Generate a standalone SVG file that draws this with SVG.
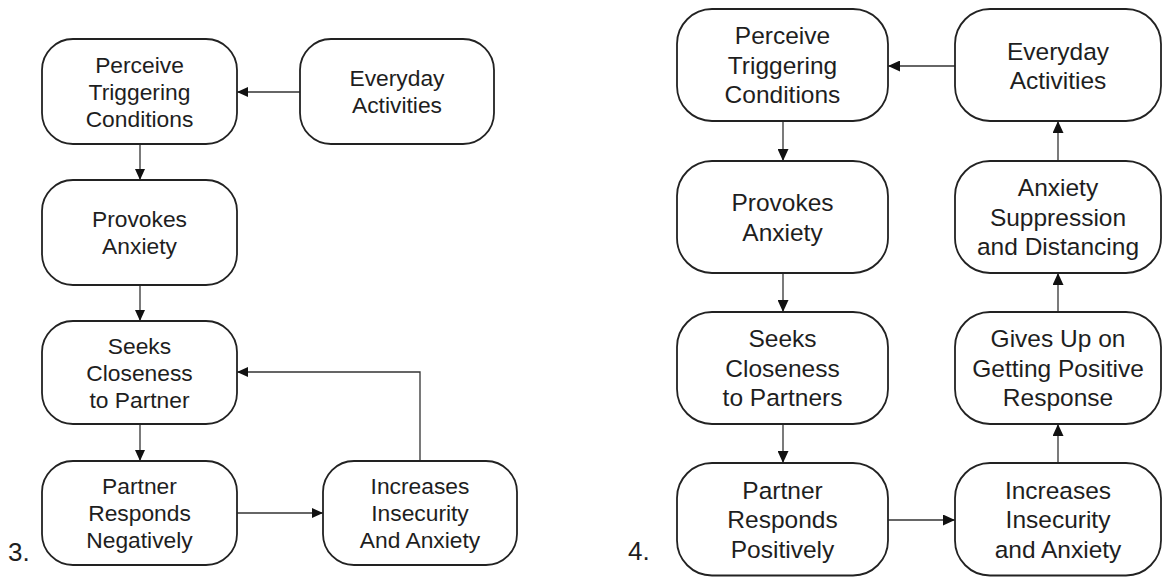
<svg xmlns="http://www.w3.org/2000/svg" width="1162" height="577" viewBox="0 0 1162 577">
<style>
.box{fill:#fff;stroke:#222;stroke-width:1.8}
.t{font-family:"Liberation Sans",Arial,sans-serif;fill:#1e1e1e;text-anchor:middle}
.ts{font-size:22.8px}
.tb{font-size:24.5px}
.num{font-family:"Liberation Sans",Arial,sans-serif;fill:#1e1e1e;font-size:26px}
.c{fill:none;stroke:#333;stroke-width:1.3}
.cs{marker-end:url(#ah)}
.cb{marker-end:url(#ahb)}
</style>
<defs>
<marker id="ah" markerUnits="userSpaceOnUse" markerWidth="11" markerHeight="10" refX="11" refY="5" orient="auto"><path d="M0,0 L11,5 L0,10 z" fill="#111"/></marker>
<marker id="ahb" markerUnits="userSpaceOnUse" markerWidth="12" markerHeight="11" refX="12" refY="5.5" orient="auto"><path d="M0,0 L12,5.5 L0,11 z" fill="#111"/></marker>
</defs>
<rect width="1162" height="577" fill="#fff"/>
<g id="connectors">
<line class="c cs" x1="300" y1="92" x2="237" y2="92"/>
<line class="c cs" x1="140" y1="144" x2="140" y2="180"/>
<line class="c cs" x1="140" y1="285" x2="140" y2="321"/>
<line class="c cs" x1="140" y1="424" x2="140" y2="461"/>
<line class="c cs" x1="237" y1="513" x2="323" y2="513"/>
<polyline class="c cs" points="420,461 420,372 237,372"/>
<line class="c cb" x1="955" y1="66" x2="888" y2="66"/>
<line class="c cb" x1="783" y1="121" x2="783" y2="161"/>
<line class="c cb" x1="783" y1="273" x2="783" y2="312"/>
<line class="c cb" x1="783" y1="424" x2="783" y2="463"/>
<line class="c cb" x1="888" y1="520" x2="955" y2="520"/>
<line class="c cb" x1="1058" y1="463" x2="1058" y2="424"/>
<line class="c cb" x1="1058" y1="312" x2="1058" y2="273"/>
<line class="c cb" x1="1058" y1="161" x2="1058" y2="121"/>
</g>
<g id="d3-perceive"><rect class="box" x="42" y="39" width="195" height="105" rx="31" ry="31"/><text class="t ts" x="139.5"><tspan x="139.5" y="72.7">Perceive</tspan><tspan x="139.5" y="99.7">Triggering</tspan><tspan x="139.5" y="126.7">Conditions</tspan></text></g>
<g id="d3-everyday"><rect class="box" x="300" y="39" width="194" height="105" rx="31" ry="31"/><text class="t ts"><tspan x="397" y="86.2">Everyday</tspan><tspan x="397" y="113.2">Activities</tspan></text></g>
<g id="d3-provokes"><rect class="box" x="42" y="180" width="195" height="105" rx="31" ry="31"/><text class="t ts"><tspan x="139.5" y="227.2">Provokes</tspan><tspan x="139.5" y="254.2">Anxiety</tspan></text></g>
<g id="d3-seeks"><rect class="box" x="42" y="321" width="195" height="103" rx="31" ry="31"/><text class="t ts"><tspan x="139.5" y="353.7">Seeks</tspan><tspan x="139.5" y="380.7">Closeness</tspan><tspan x="139.5" y="407.7">to Partner</tspan></text></g>
<g id="d3-partner"><rect class="box" x="42" y="461" width="195" height="104" rx="31" ry="31"/><text class="t ts"><tspan x="139.5" y="494.2">Partner</tspan><tspan x="139.5" y="521.2">Responds</tspan><tspan x="139.5" y="548.2">Negatively</tspan></text></g>
<g id="d3-increases"><rect class="box" x="323" y="461" width="194" height="104" rx="31" ry="31"/><text class="t ts"><tspan x="420" y="494.2">Increases</tspan><tspan x="420" y="521.2">Insecurity</tspan><tspan x="420" y="548.2">And Anxiety</tspan></text></g>
<g id="label-3"><text class="num" x="8" y="561">3.</text></g>
<g id="d4-perceive"><rect class="box" x="677" y="9" width="211" height="112" rx="35" ry="35"/><text class="t tb"><tspan x="782.5" y="44.3">Perceive</tspan><tspan x="782.5" y="73.8">Triggering</tspan><tspan x="782.5" y="103.3">Conditions</tspan></text></g>
<g id="d4-everyday"><rect class="box" x="955" y="9" width="206" height="112" rx="35" ry="35"/><text class="t tb"><tspan x="1058" y="59.5">Everyday</tspan><tspan x="1058" y="89">Activities</tspan></text></g>
<g id="d4-provokes"><rect class="box" x="677" y="161" width="211" height="112" rx="35" ry="35"/><text class="t tb"><tspan x="782.5" y="211">Provokes</tspan><tspan x="782.5" y="240.5">Anxiety</tspan></text></g>
<g id="d4-suppression"><rect class="box" x="955" y="161" width="206" height="112" rx="35" ry="35"/><text class="t tb"><tspan x="1058" y="196.3">Anxiety</tspan><tspan x="1058" y="225.8">Suppression</tspan><tspan x="1058" y="255.3">and Distancing</tspan></text></g>
<g id="d4-seeks"><rect class="box" x="677" y="312" width="211" height="112" rx="35" ry="35"/><text class="t tb"><tspan x="782.5" y="347.3">Seeks</tspan><tspan x="782.5" y="376.8">Closeness</tspan><tspan x="782.5" y="406.3">to Partners</tspan></text></g>
<g id="d4-givesup"><rect class="box" x="955" y="312" width="206" height="112" rx="35" ry="35"/><text class="t tb"><tspan x="1058" y="347.3">Gives Up on</tspan><tspan x="1058" y="376.8">Getting Positive</tspan><tspan x="1058" y="406.3">Response</tspan></text></g>
<g id="d4-partner"><rect class="box" x="677" y="463" width="211" height="112.5" rx="35" ry="35"/><text class="t tb"><tspan x="782.5" y="498.8">Partner</tspan><tspan x="782.5" y="528.3">Responds</tspan><tspan x="782.5" y="557.8">Positively</tspan></text></g>
<g id="d4-increases"><rect class="box" x="955" y="463" width="206" height="112.5" rx="35" ry="35"/><text class="t tb"><tspan x="1058" y="498.8">Increases</tspan><tspan x="1058" y="528.3">Insecurity</tspan><tspan x="1058" y="557.8">and Anxiety</tspan></text></g>
<g id="label-4"><text class="num" x="628" y="560">4.</text></g>
</svg>
